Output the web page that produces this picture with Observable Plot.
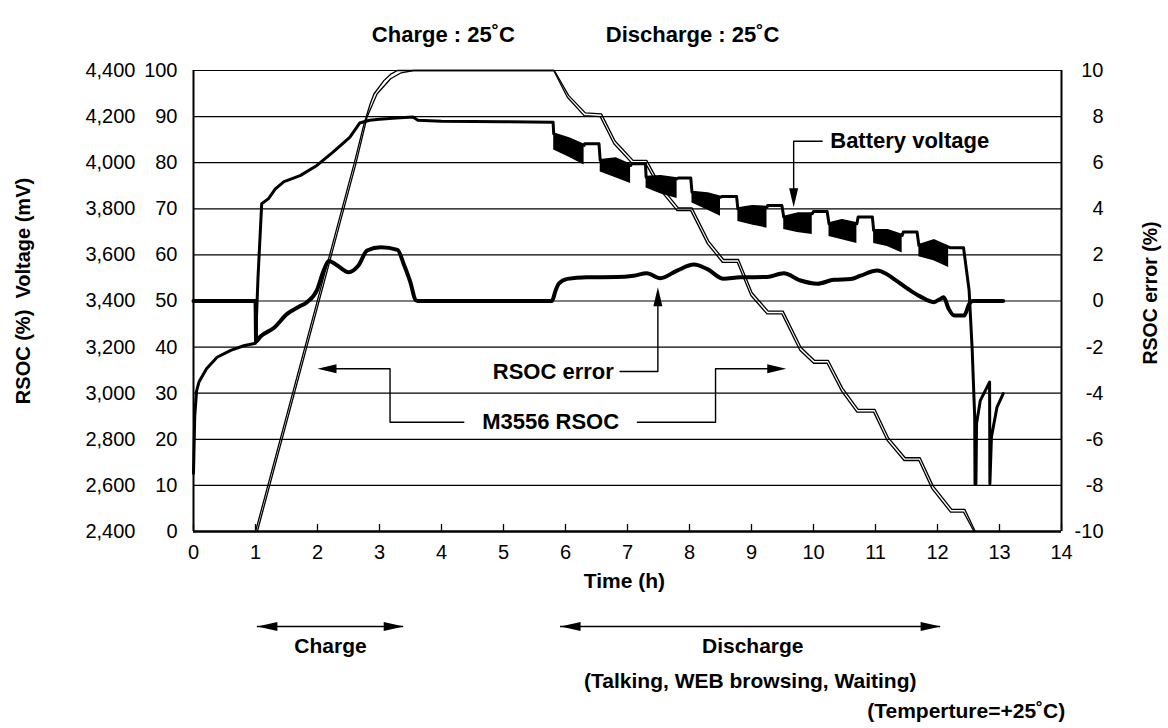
<!DOCTYPE html>
<html><head><meta charset="utf-8">
<script src="https://cdn.jsdelivr.net/npm/d3@7"></script>
<script src="https://cdn.jsdelivr.net/npm/@observablehq/plot@0.6"></script>
<style>
body{margin:0;background:#fff;}
</style></head><body><div id="chart"></div>
<script>
// ---- tick labels ----
const timeTicks = [0,1,2,3,4,5,6,7,8,9,10,11,12,13,14];
const rsocTicks = [0,10,20,30,40,50,60,70,80,90,100];
const voltageTickLabels = ["2,400","2,600","2,800","3,000","3,200","3,400","3,600","3,800","4,000","4,200","4,400"];
const errorTickLabels = ["-10","-8","-6","-4","-2","0","2","4","6","8","10"];

// ---- battery voltage (mV) ----
const voltT  = [0,0.02,0.05,0.09,0.21,0.38,0.6,0.81,1.0,1.04,1.10,1.21,1.32,1.46,1.72,1.99,2.25,2.52,2.68,2.84,3.0,3.27,3.54,3.62,4.0,5.0,5.785,
  5.80,5.81,6.05,6.30,6.31,6.54,6.56,6.81,7.05,7.07,7.29,7.30,7.53,7.80,7.82,8.02,8.04,8.29,8.50,8.52,8.76,8.78,9.01,9.25,9.26,9.49,
  9.52,9.74,9.98,10.0,10.22,10.25,10.46,10.70,10.72,10.95,10.97,11.19,11.43,11.45,11.67,11.70,11.94,12.18,12.20,12.42,
  12.51,12.56,12.60,12.605,12.62,12.63,12.69,12.84,12.845,12.87,12.96,13.06];
const voltMV = [2652,2900,3010,3050,3106,3156,3186,3206,3217,3500,3822,3844,3886,3918,3944,3988,4046,4110,4172,4184,4188,4194,4198,4184,4180,4178,4176,
  4176,4125,4104,4075,4082,4082,4010,4017,3988,3995,3995,3937,3940,3930,3934,3934,3872,3865,3850,3853,3853,3800,3810,3807,3814,3814,
  3764,3778,3778,3788,3788,3735,3749,3735,3764,3764,3706,3706,3684,3699,3699,3641,3662,3634,3631,3631,
  3446,3186,2896,2606,2606,2868,2968,3048,2606,2810,2940,2998];

// pulsed-load bands of the battery voltage (mV)
const bandCycle = [1,1,1,2,2,2,3,3,3,4,4,4,5,5,5,6,6,6,7,7,7,8,8,8,9,9,9];
const bandT    = [5.81,6.05,6.30, 6.56,6.81,7.05, 7.30,7.53,7.80, 8.04,8.29,8.50, 8.78,9.01,9.25, 9.52,9.74,9.98, 10.25,10.46,10.70, 10.97,11.19,11.43, 11.70,11.94,12.18];
const bandHigh = [4125,4104,4075, 4010,4017,3988, 3937,3940,3930, 3872,3865,3850, 3800,3810,3807, 3764,3778,3778, 3735,3749,3735, 3706,3706,3684, 3641,3662,3634];
const bandLow  = [4055,4025,3990, 3960,3935,3910, 3890,3865,3845, 3825,3795,3768, 3745,3730,3716, 3710,3697,3688, 3680,3666,3650, 3650,3636,3608, 3592,3575,3545];

// ---- RSOC error (%) ----
const errT   = [0,1.0,1.01,1.08,1.30,1.51,1.70,1.83,1.99,2.10,2.18,2.32,2.50,2.66,2.80,3.02,3.29,3.39,3.50,3.58,3.62,5.78,5.84,5.89,6.03,6.35,6.83,7.10,7.31,7.53,7.80,8.07,8.29,8.55,8.82,9.25,9.52,9.79,10.06,10.33,10.60,10.76,11.03,11.17,11.30,11.56,11.72,11.94,12.05,12.10,12.18,12.27,12.43,12.51,12.57,13.06];
const errPct = [0,0,-1.75,-1.54,-1.16,-0.56,-0.25,-0.05,0.46,1.32,1.74,1.54,1.25,1.54,2.19,2.33,2.22,1.61,0.8,0.05,0,0,0.45,0.75,0.96,1.03,1.04,1.1,1.2,0.99,1.32,1.58,1.38,0.96,1.03,1.04,1.2,0.89,0.75,0.92,0.95,1.1,1.32,1.18,0.95,0.46,0.2,-0.05,0.1,0.16,-0.34,-0.63,-0.63,-0.14,0,0];

// ---- M3556 RSOC (%), two traces ----
const rsocAT = [1.0,2.59,2.75,2.85,2.91,3.07,3.18,3.29,5.81,6.03,6.30,6.56,6.78,7.07,7.29,7.53,7.80,8.02,8.29,8.53,8.77,8.99,9.25,9.49,9.78,10.0,10.22,10.45,10.70,10.97,11.19,11.46,11.70,11.91,12.21,12.42,12.59];
const rsocA  = [0,79.8,88.4,92.8,94.9,97.8,99.2,100,100,94.2,90.2,90,84.1,79.9,79.9,74,69.6,69.6,62.4,58.4,58.4,51.2,47.2,47.2,39.3,36.5,36.5,30.5,25.9,25.9,19.7,15.4,15.4,9.3,4.2,4.2,0];
const rsocBT = [1.03,2.62,2.80,2.96,3.18,3.35,3.55,5.82,6.05,6.32,6.58,6.80,7.09,7.31,7.55,7.82,8.04,8.31,8.55,8.79,9.01,9.27,9.51,9.80,10.02,10.24,10.47,10.72,10.99,11.21,11.48,11.72,11.93,12.23,12.44,12.61];
const rsocB  = [0,79.8,89.9,94.9,98.2,99.5,100,100,94.6,90.8,90.6,84.7,80.5,80.5,74.6,70.2,70.2,63.0,59.0,59.0,51.8,47.8,47.8,39.9,37.1,37.1,31.1,26.5,26.5,20.3,16.0,16.0,9.9,4.8,4.8,0];

// ---- annotations ----
const spanLabels = ["Charge","Discharge"];
const spanStart = [1.03, 5.92];
const spanEnd   = [3.39, 12.05];
const spanLabelT = [2.21, 9.02];
const topTitles = ["Charge : 25˚C", "Discharge : 25˚C"];
const topTitleT = [4.03, 8.05];

// ---- build tables ----
const vToY = v => (v - 2400) / 20;
const eToY = e => 50 + 5 * e;
const voltage = voltT.map((t, i) => ({t, v: voltMV[i]}));
const band = bandT.map((t, i) => ({t, c: bandCycle[i], hi: bandHigh[i], lo: bandLow[i]}));
const rsocErr = errT.map((t, i) => ({t, e: errPct[i]}));
const rsocTraces = [
  ...rsocAT.map((t, i) => ({t, r: rsocA[i], s: "A"})),
  ...rsocBT.map((t, i) => ({t, r: rsocB[i], s: "B"}))
];
const spans = spanLabels.map((l, i) => ({l, a: spanStart[i], b: spanEnd[i], m: spanLabelT[i]}));
const titles = topTitles.map((l, i) => ({l, t: topTitleT[i]}));
const vLab = new Map(rsocTicks.map((d, i) => [d, voltageTickLabels[i]]));
const eLab = new Map(rsocTicks.map((d, i) => [d, errorTickLabels[i]]));

// leader lines for the in-plot labels (x in h, y in RSOC %)
const leaders = [
  {g: "bv", t: 10.14, y: 84.66}, {g: "bv", t: 9.68, y: 84.66}, {g: "bv", t: 9.68, y: 72},
  {g: "re", t: 6.88, y: 34.7}, {g: "re", t: 7.49, y: 34.7}, {g: "re", t: 7.49, y: 51},
  {g: "ml", t: 4.36, y: 23.7}, {g: "ml", t: 3.17, y: 23.7}, {g: "ml", t: 3.17, y: 35.3}, {g: "ml", t: 2.2, y: 35.3},
  {g: "mr", t: 7.16, y: 23.7}, {g: "mr", t: 8.42, y: 23.7}, {g: "mr", t: 8.42, y: 35.3}, {g: "mr", t: 9.4, y: 35.3}
];
const heads = [
  {t: 9.68, y: 70.35, d: "down"},
  {t: 7.49, y: 53.0, d: "up"},
  {t: 2.0, y: 35.3, d: "left"},
  {t: 9.56, y: 35.3, d: "right"}
];
const labelBattery = [{l: "Battery voltage", t: 10.27, y: 84.66}];
const labelError = [{l: "RSOC error", t: 6.78, y: 34.7}];
const labelRsoc = [{l: "M3556 RSOC", t: 5.76, y: 23.7}];

function head(dir, L = 19, W = 9) {
  return {draw(ctx) {
    const h = W / 2;
    if (dir === "right") { ctx.moveTo(0,0); ctx.lineTo(-L,-h); ctx.lineTo(-L,h); }
    if (dir === "left")  { ctx.moveTo(0,0); ctx.lineTo(L,-h); ctx.lineTo(L,h); }
    if (dir === "up")    { ctx.moveTo(0,0); ctx.lineTo(-h,L); ctx.lineTo(h,L); }
    if (dir === "down")  { ctx.moveTo(0,0); ctx.lineTo(-h,-L); ctx.lineTo(h,-L); }
    ctx.closePath();
  }};
}

const FONT = "'Liberation Sans', Arial, Helvetica, sans-serif";
const bold = {fontWeight: "bold", fontSize: 21};

const chart = Plot.plot({
  width: 1168, height: 728,
  marginLeft: 193, marginRight: 107, marginTop: 70, marginBottom: 197,
  style: {fontFamily: FONT, fontSize: "20px", color: "black", background: "white", overflow: "visible"},
  x: {domain: [0, 14]},
  y: {domain: [0, 100]},
  marks: [
    Plot.ruleY(rsocTicks, {stroke: "black", strokeWidth: 1.2}),
    Plot.ruleX([0], {stroke: "black", strokeWidth: 2}),
    Plot.ruleX([14], {stroke: "black", strokeWidth: 2}),
    Plot.ruleY([0], {stroke: "black", strokeWidth: 2.5}),
    Plot.ruleX(timeTicks, {x: d => d, y1: () => 0, y2: () => 1.5, stroke: "black", strokeWidth: 1.3}),
    Plot.axisX({ticks: timeTicks, tickSize: 0, tickPadding: 13, label: null}),
    Plot.axisY({ticks: rsocTicks, tickSize: 0, tickPadding: 16, label: null, tickFormat: d => String(d)}),
    Plot.axisY({ticks: rsocTicks, tickSize: 0, tickPadding: 58, label: null, tickFormat: d => vLab.get(d)}),
    Plot.axisY({anchor: "right", ticks: rsocTicks, tickSize: 0, tickPadding: 42, textAnchor: "end", label: null, tickFormat: d => eLab.get(d)}),
    // RSOC traces
    Plot.line(rsocTraces, {x: "t", y: "r", z: "s", stroke: "black", strokeWidth: 1.3}),
    // voltage
    Plot.areaY(band, {x: "t", y1: d => vToY(d.lo), y2: d => vToY(d.hi), z: "c", fill: "black"}),
    Plot.line(voltage, {x: "t", y: d => vToY(d.v), stroke: "black", strokeWidth: 3}),
    // RSOC error
    Plot.line(rsocErr, {x: "t", y: d => eToY(d.e), curve: "monotone-x", stroke: "black", strokeWidth: 4, strokeLinejoin: "round"}),
    // leaders and arrowheads
    Plot.line(leaders, {x: "t", y: "y", z: "g", stroke: "black", strokeWidth: 1.4}),
    ...heads.map(h => Plot.dot([h], {x: "t", y: "y", symbol: head(h.d), r: 6, fill: "black", stroke: "none"})),
    Plot.text(labelBattery, {x: "t", y: "y", text: "l", textAnchor: "start", fontWeight: "bold", fontSize: 22}),
    Plot.text(labelError, {x: "t", y: "y", text: "l", textAnchor: "end", fontWeight: "bold", fontSize: 22}),
    Plot.text(labelRsoc, {x: "t", y: "y", text: "l", textAnchor: "middle", fontWeight: "bold", fontSize: 22}),
    // axis titles
    Plot.text(["Time (h)"], {frameAnchor: "bottom", x: () => 6.95, dy: 56, textAnchor: "middle", ...bold}),
    Plot.text(["RSOC (%)  Voltage (mV)"], {frameAnchor: "left", rotate: -90, dx: -170, dy: -10, textAnchor: "middle", fontWeight: "bold", fontSize: 20}),
    Plot.text(["RSOC error (%)"], {frameAnchor: "right", rotate: -90, dx: 89, dy: -8, textAnchor: "middle", fontWeight: "bold", fontSize: 19.5}),
    // top titles
    Plot.text(titles, {frameAnchor: "top", x: "t", text: "l", dy: -44, textAnchor: "middle", fontWeight: "bold", fontSize: 22}),
    // bottom span arrows
    Plot.ruleY(spans, {x1: "a", x2: "b", y: () => 0, dy: 95, stroke: "black", strokeWidth: 1.5}),
    Plot.dot(spans, {x: "a", y: () => 0, dy: 95, symbol: head("left", 20, 9), r: 6, fill: "black", stroke: "none"}),
    Plot.dot(spans, {x: "b", y: () => 0, dy: 95, symbol: head("right", 20, 9), r: 6, fill: "black", stroke: "none"}),
    Plot.text(spans, {frameAnchor: "bottom", x: "m", text: "l", dy: 121, textAnchor: "middle", ...bold}),
    Plot.text(["(Talking, WEB browsing, Waiting)"], {frameAnchor: "bottom", x: () => 8.98, dy: 156, textAnchor: "middle", ...bold}),
    Plot.text(["(Temperture=+25˚C)"], {frameAnchor: "bottom", x: () => 14.06, dy: 186, textAnchor: "end", ...bold})
  ]
});
document.getElementById("chart").appendChild(chart);
</script></body></html>
